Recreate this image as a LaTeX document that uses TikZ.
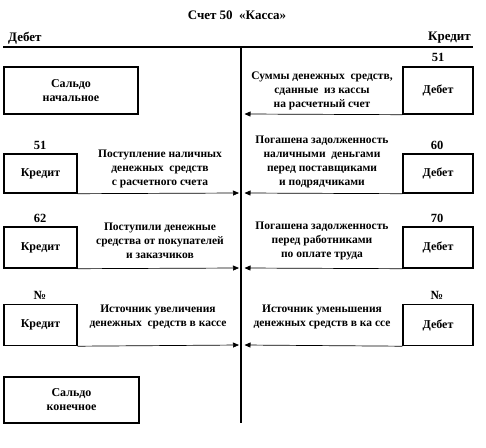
\documentclass[tikz,border=0pt]{standalone}
\usepackage{fontspec}
\setmainfont{Liberation Serif}
\usetikzlibrary{arrows.meta}
\begin{document}
\begin{tikzpicture}[x=1pt,y=-1pt,
  every node/.style={font=\bfseries\fontsize{11.5}{14}\selectfont, inner sep=0pt},
  acbox/.style={draw, line width=1.4pt, align=center, font=\bfseries\fontsize{12}{14}\selectfont},
  lbl/.style={align=center},
  num/.style={font=\bfseries\fontsize{12.5}{14}\selectfont},
  head/.style={font=\bfseries\fontsize{13}{15}\selectfont},
  flow/.style={line width=0.7pt, -{Triangle[length=6pt,width=5pt]}},
  tline/.style={line width=1.6pt}
]
\useasboundingbox (0,0) rectangle (486,447);
% title and headers
\node[head] (title) at (237,15) {Счет 50\ \ «Касса»};
\node[head, anchor=west] (deb) at (8,38) {Дебет};
\node[head, anchor=east] (kred) at (471,38) {Кредит};
% T-account lines
\coordinate (hl) at (3,47);
\coordinate (hr) at (473,47);
\coordinate (vt) at (241,47);
\coordinate (vb) at (241,423);
\draw[tline] (hl) -- (hr);
\draw[tline] (vt) -- (vb);
% boxes
\node[acbox, minimum width=134pt, minimum height=47pt] (sn) at (71,90.5) {Сальдо\\начальное};
\node[acbox, minimum width=70pt, minimum height=47pt] (r1) at (438,90.5) {Дебет};
\node[acbox, minimum width=73pt, minimum height=39pt] (l2) at (40.5,173.5) {Кредит};
\node[acbox, minimum width=70pt, minimum height=39pt] (r2) at (438,173.5) {Дебет};
\node[acbox, minimum width=73pt, minimum height=41pt] (l3) at (40.5,247.5) {Кредит};
\node[acbox, minimum width=70pt, minimum height=41pt] (r3) at (438,247.5) {Дебет};
\node[acbox, minimum width=73pt, minimum height=41pt] (l4) at (40.5,325) {Кредит};
\node[acbox, minimum width=70pt, minimum height=41pt] (r4) at (438,325) {Дебет};
\node[acbox, minimum width=135pt, minimum height=46pt] (sk) at (71.5,400) {Сальдо\\конечное};
% account numbers
\node[num] (n1) at (438,57) {51};
\node[num] (n2) at (40,145) {51};
\node[num] (n3) at (437,145) {60};
\node[num] (n4) at (40,218) {62};
\node[num] (n5) at (437,218) {70};
\node[num] (n6) at (40,295) {№};
\node[num] (n7) at (437,295) {№};
% labels
\node[lbl] (t1) at (322,91) {Суммы денежных\ \ средств,\\сданные\ \ из кассы\\на расчетный счет};
\node[lbl] (t2) at (160,168.5) {Поступление наличных\\денежных\ \ средств\\с расчетного счета};
\node[lbl] (t3) at (322,161.5) {Погашена задолженность\\наличными\ \ деньгами\\перед поставщиками\\и подрядчиками};
\node[lbl] (t4) at (160,241) {Поступили денежные\\средства от покупателей\\и заказчиков};
\node[lbl] (t5) at (322,241) {Погашена задолженность\\перед работниками\\по оплате труда};
\node[lbl] (t6) at (158,317) {Источник увеличения\\денежных\ \ средств в кассе};
\node[lbl] (t7) at (322,317) {Источник уменьшения\\денежных средств в ка ссе};
% arrow targets on the vertical line
\coordinate (a1) at (244.5,114);
\coordinate (a2l) at (239,193);
\coordinate (a2r) at (244.5,193);
\coordinate (a3l) at (239,268);
\coordinate (a3r) at (244.5,268);
\coordinate (a4l) at (239,345);
\coordinate (a4r) at (244.5,345);
% flows
\draw[flow] (r1.south west) -- (a1);
\draw[flow] (l2.south east) -- (a2l);
\draw[flow] (r2.south west) -- (a2r);
\draw[flow] (l3.south east) -- (a3l);
\draw[flow] (r3.south west) -- (a3r);
\draw[flow] (l4.south east) -- (a4l);
\draw[flow] (r4.south west) -- (a4r);
\end{tikzpicture}
\end{document}
